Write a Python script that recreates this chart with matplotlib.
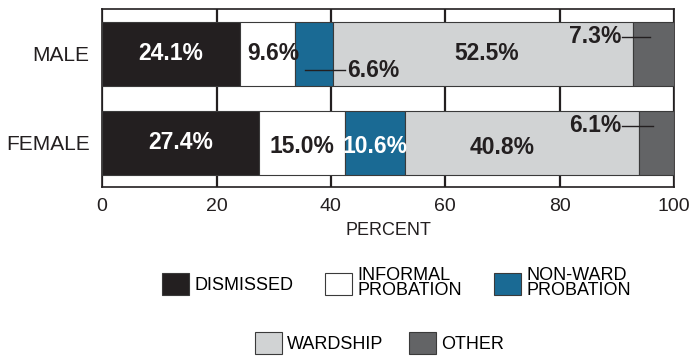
#!/usr/bin/python
# -*- coding: utf-8 -*-

import numpy as np
import matplotlib.pyplot as plt
from matplotlib.patches import Patch

###############################################################################
# Data
###############################################################################
groups = ['MALE', 'FEMALE']
categories = ['DISMISSED', 'INFORMAL\nPROBATION', 'NON-WARD\nPROBATION',
              'WARDSHIP', 'OTHER']
male = [24.1, 9.6, 6.6, 52.5, 7.3]
female = [27.4, 15.0, 10.6, 40.8, 6.1]
xticks = [0, 20, 40, 60, 80, 100]

COLORS = ['#231f20', '#ffffff', '#1a6a94', '#d1d3d4', '#636466']
TXT = ['white', '#231f20', '#231f20', '#231f20', '#231f20']
TXT_F = ['white', '#231f20', 'white', '#231f20', '#231f20']
EDGE = '#3a3a3a'
plt.rcParams['font.family'] = ['Liberation Sans', 'DejaVu Sans']

###############################################################################
# Bars
###############################################################################
fig = plt.figure(figsize=(6.9, 3.62), dpi=100)
ax = fig.add_axes([0.148, 0.483, 0.829, 0.492])

ypos = [1, 0]
data = np.array([male, female])
left = np.zeros(len(groups))
for i, cat in enumerate(categories):
    ax.barh(ypos, data[:, i], left=left, height=0.72, color=COLORS[i],
            edgecolor=EDGE, linewidth=0.8, zorder=3)
    left += data[:, i]

starts = np.cumsum(data, axis=1) - data
mids = starts + data / 2
FS = 16.5

# male labels
ax.text(mids[0, 0], 1, '{:.1f}%'.format(male[0]), color=TXT[0],
        ha='center', va='center', fontsize=FS, fontweight='bold', zorder=5)
ax.text(mids[0, 1] + 1.0, 1, '{:.1f}%'.format(male[1]), color=TXT[1],
        ha='center', va='center', fontsize=FS, fontweight='bold', zorder=5)
ax.plot([mids[0, 2] - 1.5, 42.5], [0.81, 0.81], color='#231f20', lw=1,
        zorder=5)
ax.text(42.9, 0.81, '{:.1f}%'.format(male[2]), color=TXT[2],
        ha='left', va='center', fontsize=FS, fontweight='bold', zorder=5)
ax.text(mids[0, 3] + 0.6, 1, '{:.1f}%'.format(male[3]), color=TXT[3],
        ha='center', va='center', fontsize=FS, fontweight='bold', zorder=5)
ax.plot([90.9, 95.8], [1.19, 1.19], color='#231f20', lw=1, zorder=5)
ax.text(90.7, 1.19, '{:.1f}%'.format(male[4]), color=TXT[4],
        ha='right', va='center', fontsize=FS, fontweight='bold', zorder=5)

# female labels
ax.text(mids[1, 0], 0, '{:.1f}%'.format(female[0]), color=TXT_F[0],
        ha='center', va='center', fontsize=FS, fontweight='bold', zorder=5)
ax.text(mids[1, 1], -0.04, '{:.1f}%'.format(female[1]), color=TXT_F[1],
        ha='center', va='center', fontsize=FS, fontweight='bold', zorder=5)
ax.text(mids[1, 2], -0.04, '{:.1f}%'.format(female[2]), color=TXT_F[2],
        ha='center', va='center', fontsize=FS, fontweight='bold', zorder=5)
ax.text(mids[1, 3] - 3.5, -0.05, '{:.1f}%'.format(female[3]),
        color=TXT_F[3], ha='center', va='center', fontsize=FS,
        fontweight='bold', zorder=5)
ax.plot([90.9, 96.3], [0.19, 0.19], color='#231f20', lw=1, zorder=5)
ax.text(90.7, 0.19, '{:.1f}%'.format(female[4]), color=TXT_F[4],
        ha='right', va='center', fontsize=FS, fontweight='bold', zorder=5)

###############################################################################
# Axes
###############################################################################
ax.set_xlim(0, 100)
ax.set_ylim(-0.5, 1.5)
ax.set_xticks(xticks)
ax.set_yticks(ypos)
ax.set_yticklabels(groups)
ax.tick_params(axis='both', length=0, colors='#231f20')
ax.tick_params(axis='y', labelsize=15, pad=9)
ax.tick_params(axis='x', labelsize=14, pad=8)
ax.set_xlabel('PERCENT', fontsize=13, color='#231f20', labelpad=5)
ax.xaxis.grid(True, color='#231f20', lw=1.6, zorder=0)
ax.set_axisbelow(True)
for s in ax.spines.values():
    s.set_color('#231f20')
    s.set_linewidth(1.2)

###############################################################################
# Legend
###############################################################################
handles = [Patch(facecolor=c, edgecolor=EDGE, linewidth=0.8) for c in COLORS]
leg_kw = dict(frameon=False, fontsize=13, handlelength=1.5, handleheight=1.5,
              handletextpad=0.3, labelspacing=0.2)
leg1 = fig.legend(handles[:3], categories[:3], ncol=3, loc='center',
                  bbox_to_anchor=(0.575, 0.218), columnspacing=1.75,
                  **leg_kw)
for t in leg1.get_texts():
    t.set_linespacing(0.85)
fig.legend(handles[3:], categories[3:], ncol=2, loc='center',
           bbox_to_anchor=(0.55, 0.052), columnspacing=1.4, **leg_kw)

fig.savefig('out.png', dpi=100)
